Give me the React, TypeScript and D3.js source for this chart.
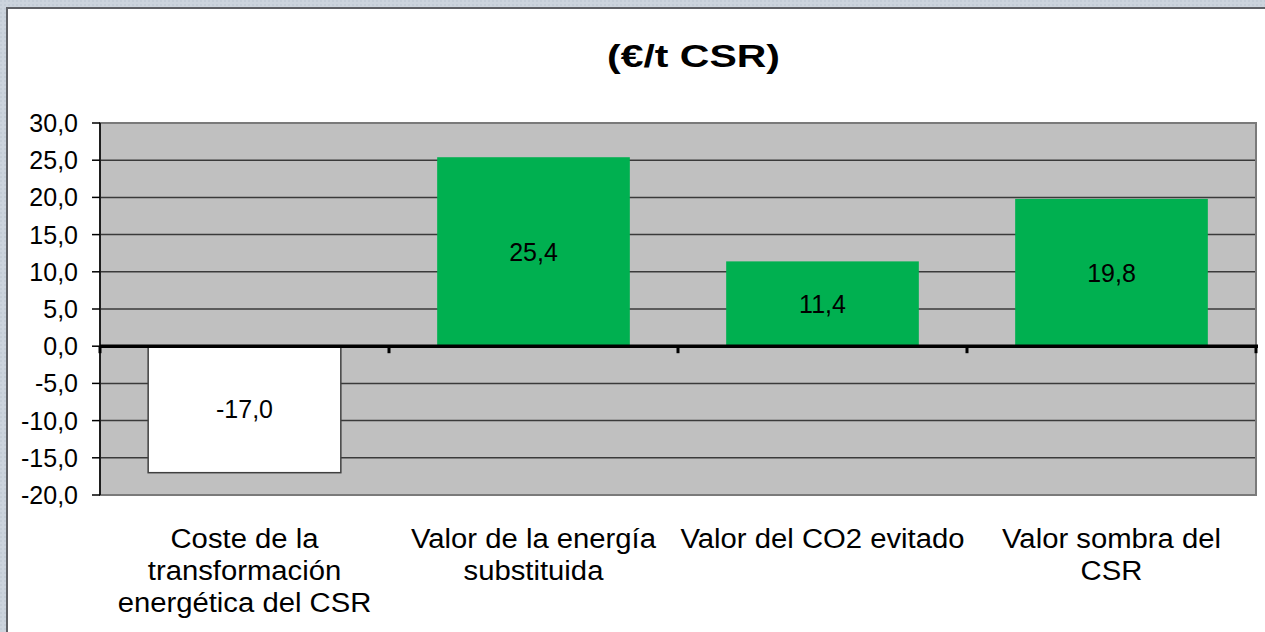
import React from "react";
import * as d3 from "d3";

const categories: string[][] = [
  ["Coste de la", "transformación", "energética del CSR"],
  ["Valor de la energía", "substituida"],
  ["Valor del CO2 evitado"],
  ["Valor sombra del", "CSR"],
];
const values: number[] = [-17.0, 25.4, 11.4, 19.8];
const barColors: string[] = ["#ffffff", "#00b050", "#00b050", "#00b050"];
const yTicks: number[] = [30, 25, 20, 15, 10, 5, 0, -5, -10, -15, -20];
const title = "(€/t CSR)";

const W = 1265;
const H = 632;
const plot = { left: 100, right: 1256, top: 123, bottom: 495 };
const fmt = (v: number) => v.toFixed(1).replace(".", ",");
const FONT = "'Liberation Sans', Arial, sans-serif";

export default function App() {
  const y = d3.scaleLinear().domain([-20, 30]).range([plot.bottom, plot.top]);
  const x = d3
    .scaleBand<number>()
    .domain(d3.range(categories.length))
    .range([plot.left, plot.right])
    .paddingInner(1 / 3)
    .paddingOuter(1 / 6);
  const step = x.step();
  const y0 = y(0);

  return (
    <div style={{ position: "absolute", left: 0, top: 0 }}>
      <svg width={W} height={H} style={{ display: "block" }}>
        <defs>
          <pattern id="bgpat" width="4" height="4" patternUnits="userSpaceOnUse">
            <rect width="4" height="4" fill="#ccd4dd" />
            <rect x="0" y="0" width="2" height="2" fill="#c3ccd6" />
          </pattern>
        </defs>
        <rect width={W} height={H} fill="url(#bgpat)" />
        <rect x={7} y={8} width={W} height={H} fill="#ffffff" stroke="#5f6166" strokeWidth={2} />

        <text
          x={693.5}
          y={67}
          textAnchor="middle"
          fontFamily={FONT}
          fontWeight="bold"
          fontSize={31}
          textLength={173}
          lengthAdjust="spacingAndGlyphs"
          fill="#000"
        >
          {title}
        </text>

        {/* plot area */}
        <rect
          x={plot.left}
          y={plot.top}
          width={plot.right - plot.left}
          height={plot.bottom - plot.top}
          fill="#c0c0c0"
        />
        {/* gridlines */}
        {yTicks
          .filter((t) => t !== 0 && t !== 30 && t !== -20)
          .map((t) => (
            <line
              key={"g" + t}
              x1={plot.left}
              x2={plot.right}
              y1={y(t)}
              y2={y(t)}
              stroke="#3a3a3a"
              strokeWidth={1.5}
            />
          ))}
        {/* plot border */}
        <rect
          x={plot.left}
          y={plot.top}
          width={plot.right - plot.left}
          height={plot.bottom - plot.top}
          fill="none"
          stroke="#7a7a7a"
          strokeWidth={2}
        />

        {/* bars */}
        {values.map((v, i) => {
          const top = Math.min(y(v), y0);
          const h = Math.abs(y(v) - y0);
          return (
            <g key={"b" + i}>
              <rect
                x={x(i)!}
                y={top}
                width={x.bandwidth()}
                height={h}
                fill={barColors[i]}
                stroke={v < 0 ? "#404040" : "none"}
                strokeWidth={1.5}
              />
              <text
                x={x(i)! + x.bandwidth() / 2}
                y={top + h / 2 + 9}
                textAnchor="middle"
                fontFamily={FONT}
                fontSize={25}
                fill="#000"
              >
                {fmt(v)}
              </text>
            </g>
          );
        })}

        {/* y axis */}
        <line x1={plot.left} x2={plot.left} y1={plot.top} y2={plot.bottom} stroke="#000" strokeWidth={1.5} />
        {yTicks.map((t) => (
          <g key={"t" + t}>
            <line x1={plot.left - 8} x2={plot.left} y1={y(t)} y2={y(t)} stroke="#000" strokeWidth={1.5} />
            <text
              x={78}
              y={y(t) + 9}
              textAnchor="end"
              fontFamily={FONT}
              fontSize={25}
              fill="#000"
            >
              {fmt(t)}
            </text>
          </g>
        ))}

        {/* zero axis */}
        <line x1={plot.left} x2={plot.right + 2} y1={y0} y2={y0} stroke="#000" strokeWidth={3.5} />
        {d3.range(categories.length + 1).map((k) => (
          <line
            key={"xt" + k}
            x1={plot.left + k * step}
            x2={plot.left + k * step}
            y1={y0}
            y2={y0 + 7}
            stroke="#000"
            strokeWidth={3}
          />
        ))}

        {/* category labels */}
        {categories.map((lines, i) => {
          const cx = x(i)! + x.bandwidth() / 2;
          return (
            <text
              key={"c" + i}
              x={cx}
              textAnchor="middle"
              fontFamily={FONT}
              fontSize={28}
              fill="#000"
              transform={`translate(${cx},0) scale(1.045,1) translate(${-cx},0)`}
            >
              {lines.map((ln, j) => (
                <tspan key={j} x={cx} y={548 + j * 32}>
                  {ln}
                </tspan>
              ))}
            </text>
          );
        })}
      </svg>
    </div>
  );
}
